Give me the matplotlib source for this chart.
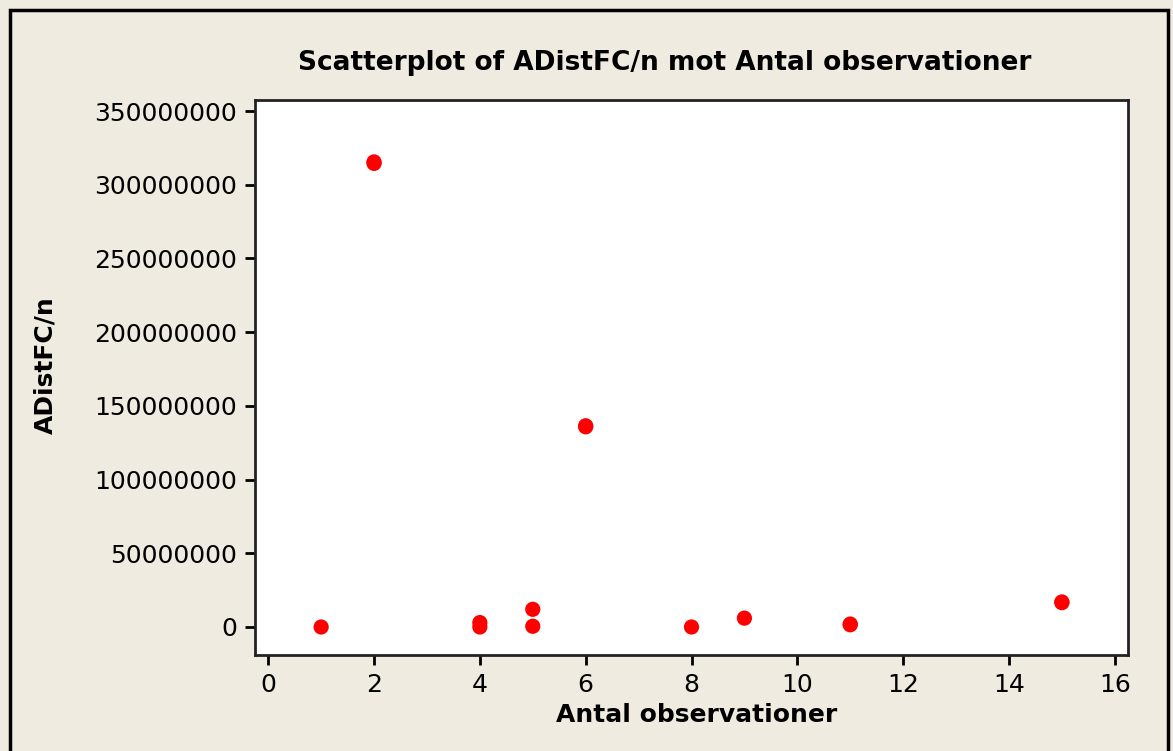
import matplotlib
matplotlib.use("Agg")
import matplotlib.pyplot as plt
from matplotlib.patches import Rectangle

# Data
antal = [1, 2, 2, 4, 4, 5, 5, 6, 6, 8, 9, 11, 11, 15, 15]
adist = [0, 315500000, 314500000, 0, 3000000, 12000000, 500000,
         136500000, 135800000, 0, 6000000, 2000000, 1500000,
         17000000, 16500000]
xticks = [0, 2, 4, 6, 8, 10, 12, 14, 16]
yticks = [0, 50000000, 100000000, 150000000, 200000000,
          250000000, 300000000, 350000000]

bg = "#EFEBE1"
W, H = 1173, 751
fig = plt.figure(figsize=(W / 100, H / 100), dpi=100, facecolor=bg)

ax = fig.add_axes([255 / W, 1 - 655 / H, (1128 - 255) / W, (655 - 100) / H])
ax.set_facecolor("white")
ax.scatter(antal, adist, s=120, color="#FF0000", edgecolors="none", zorder=3)

ax.set_xlim(-0.25, 16.25)
ax.set_ylim(-19000000, 357500000)
ax.set_xticks(xticks)
ax.set_xticklabels([str(v) for v in xticks])
ax.set_yticks(yticks)
ax.set_yticklabels([str(v) for v in yticks])
ax.tick_params(axis="both", direction="out", length=7, width=2,
               labelsize=18, colors="black", pad=6)
for s in ax.spines.values():
    s.set_linewidth(2)
    s.set_color("#222222")

fig.text(665 / W, 1 - 63 / H,
         "Scatterplot of ADistFC/n mot Antal observationer",
         ha="center", va="center", fontsize=19, fontweight="bold")
fig.text(697 / W, 1 - 715 / H, "Antal observationer",
         ha="center", va="center", fontsize=18, fontweight="bold")
fig.text(45 / W, 1 - 365 / H, "ADistFC/n", rotation=90,
         ha="center", va="center", fontsize=18, fontweight="bold")

fig.patches.append(Rectangle((10 / W, -0.01), (1168 - 10) / W, 1 - 10 / H + 0.01,
                             transform=fig.transFigure, fill=False,
                             edgecolor="black", linewidth=2.5))

fig.savefig("out.png", dpi=100, facecolor=bg)
